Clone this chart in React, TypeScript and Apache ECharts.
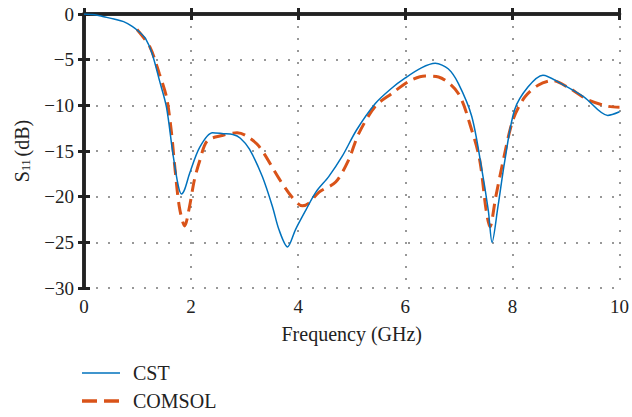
import React, { useEffect, useRef } from "react";
import * as echarts from "echarts";

const xTicks = [0, 2, 4, 6, 8, 10];
const yTicks = [-30, -25, -20, -15, -10, -5, 0];
const seriesNames = ["CST", "COMSOL"];

const cstFreq = [0, 0.2, 0.37, 0.56, 0.74, 0.9, 1.04, 1.15, 1.27, 1.41, 1.54, 1.66, 1.76, 1.82, 1.88, 1.97, 2.16, 2.4, 2.6, 2.78, 2.92, 3.09, 3.33, 3.52, 3.64, 3.8, 3.95, 4.14, 4.33, 4.57, 4.82, 5.09, 5.44, 5.75, 6.0, 6.3, 6.56, 6.8, 6.99, 7.24, 7.42, 7.55, 7.62, 7.73, 7.86, 8.04, 8.29, 8.57, 8.9, 9.34, 9.78, 10];
const cstS11 = [0, -0.08, -0.3, -0.55, -0.84, -1.35, -2.0, -2.7, -4.3, -7.3, -10.2, -15.3, -18.8, -19.7, -19.2, -17.5, -14.6, -13.0, -13.1, -13.2, -13.6, -14.8, -17.8, -21.1, -23.6, -25.5, -23.6, -21.5, -19.5, -17.8, -15.6, -12.7, -9.8, -8.1, -7.0, -5.9, -5.4, -6.0, -7.6, -11.2, -16.7, -21.5, -25.0, -21.1, -16.0, -10.5, -8.0, -6.7, -7.6, -9.1, -11.1, -10.7];

const comsolFreq = [0.99, 1.23, 1.41, 1.54, 1.63, 1.69, 1.78, 1.88, 1.97, 2.06, 2.16, 2.3, 2.58, 2.86, 3.02, 3.27, 3.64, 3.89, 4.08, 4.2, 4.39, 4.7, 4.94, 5.13, 5.44, 5.75, 6.06, 6.37, 6.62, 6.99, 7.24, 7.39, 7.51, 7.58, 7.69, 7.83, 8.01, 8.23, 8.48, 8.75, 9.03, 9.41, 9.78, 10];
const comsolS11 = [-1.7, -3.6, -6.6, -9.1, -12.8, -16.4, -21.1, -23.2, -21.1, -18.2, -16.1, -13.9, -13.3, -13.0, -13.3, -14.5, -18.0, -20.1, -21.0, -20.7, -19.5, -18.4, -16.0, -13.1, -10.1, -8.7, -7.4, -6.8, -6.9, -8.7, -12.7, -16.0, -21.5, -23.3, -20.0, -16.0, -11.6, -9.1, -7.8, -7.3, -8.0, -9.4, -10.1, -10.2];

const FONT = "Liberation Serif";
const AX = "#222222";
const BLUE = "#0072BD";
const ORANGE = "#D95319";

export default function App() {
  const ref = useRef<HTMLDivElement>(null);
  useEffect(() => {
    if (!ref.current) return;
    const chart = echarts.init(ref.current, undefined, { renderer: "svg" });
    const fmt = (v: number) => String(v).replace("-", "\u2212");
    const boxAxis = {
      axisLine: { show: true, lineStyle: { color: AX, width: 3.5 } },
      axisTick: { show: true, inside: true, length: 6, lineStyle: { color: AX, width: 3 } },
    };
    const grid = { color: "#777777", width: 1.5, type: [2, 10] };
    chart.setOption({
      animation: false,
      backgroundColor: "#ffffff",
      textStyle: { fontFamily: FONT },
      grid: { left: 84, top: 14, right: 10, bottom: 129, containLabel: false },
      graphic: [
        { type: "line", shape: { x1: 82, y1: 373, x2: 120, y2: 373 }, style: { stroke: BLUE, lineWidth: 1.5 } },
        { type: "text", x: 133, y: 373, style: { text: seriesNames[0], fontFamily: FONT, fontSize: 20, fill: AX, verticalAlign: "middle" } },
        { type: "line", shape: { x1: 82, y1: 401, x2: 120, y2: 401 }, style: { stroke: ORANGE, lineWidth: 3.5, lineDash: [15, 7] } },
        { type: "text", x: 133, y: 401, style: { text: seriesNames[1], fontFamily: FONT, fontSize: 20, fill: AX, verticalAlign: "middle" } },
      ],
      xAxis: [
        {
          type: "value",
          min: xTicks[0],
          max: xTicks[xTicks.length - 1],
          interval: 2,
          name: "Frequency (GHz)",
          nameLocation: "middle",
          nameGap: 36,
          nameTextStyle: { fontFamily: FONT, fontSize: 20, color: AX },
          ...boxAxis,
          axisLabel: { fontFamily: FONT, fontSize: 19, color: AX, margin: 9, formatter: fmt },
          splitLine: { show: true, lineStyle: grid },
        },
        {
          type: "value",
          position: "top",
          min: xTicks[0],
          max: xTicks[xTicks.length - 1],
          interval: 2,
          ...boxAxis,
          axisLabel: { show: false },
          splitLine: { show: false },
        },
      ],
      yAxis: [
        {
          type: "value",
          min: yTicks[0],
          max: yTicks[yTicks.length - 1],
          interval: 5,
          name: "{s|S}{sub|11} {s|(dB)}",
          nameLocation: "middle",
          nameGap: 52,
          nameRotate: 90,
          nameTextStyle: {
            rich: {
              s: { fontFamily: FONT, fontSize: 20, color: AX },
              sub: { fontFamily: FONT, fontSize: 12, color: AX, verticalAlign: "bottom", padding: [8, 0, 0, 0] },
            },
          },
          ...boxAxis,
          axisLabel: { fontFamily: FONT, fontSize: 19, color: AX, margin: 10, formatter: fmt },
          splitLine: { show: true, lineStyle: grid },
        },
        {
          type: "value",
          position: "right",
          min: yTicks[0],
          max: yTicks[yTicks.length - 1],
          interval: 5,
          ...boxAxis,
          axisLabel: { show: false },
          splitLine: { show: false },
        },
      ],
      series: [
        {
          name: seriesNames[0],
          type: "line",
          xAxisIndex: 0,
          yAxisIndex: 0,
          data: cstFreq.map((f, i) => [f, cstS11[i]]),
          showSymbol: false,
          symbol: "none",
          smooth: 0.3,
          lineStyle: { color: BLUE, width: 1.5 },
          itemStyle: { color: BLUE },
          z: 3,
        },
        {
          name: seriesNames[1],
          type: "line",
          xAxisIndex: 0,
          yAxisIndex: 0,
          data: comsolFreq.map((f, i) => [f, comsolS11[i]]),
          showSymbol: false,
          symbol: "none",
          smooth: 0.3,
          lineStyle: { color: ORANGE, width: 3, type: [13, 7] },
          itemStyle: { color: ORANGE },
          z: 2,
        },
      ],
    });
    return () => chart.dispose();
  }, []);
  return <div ref={ref} style={{ width: 632, height: 417, position: "absolute", left: 0, top: 0 }} />;
}
